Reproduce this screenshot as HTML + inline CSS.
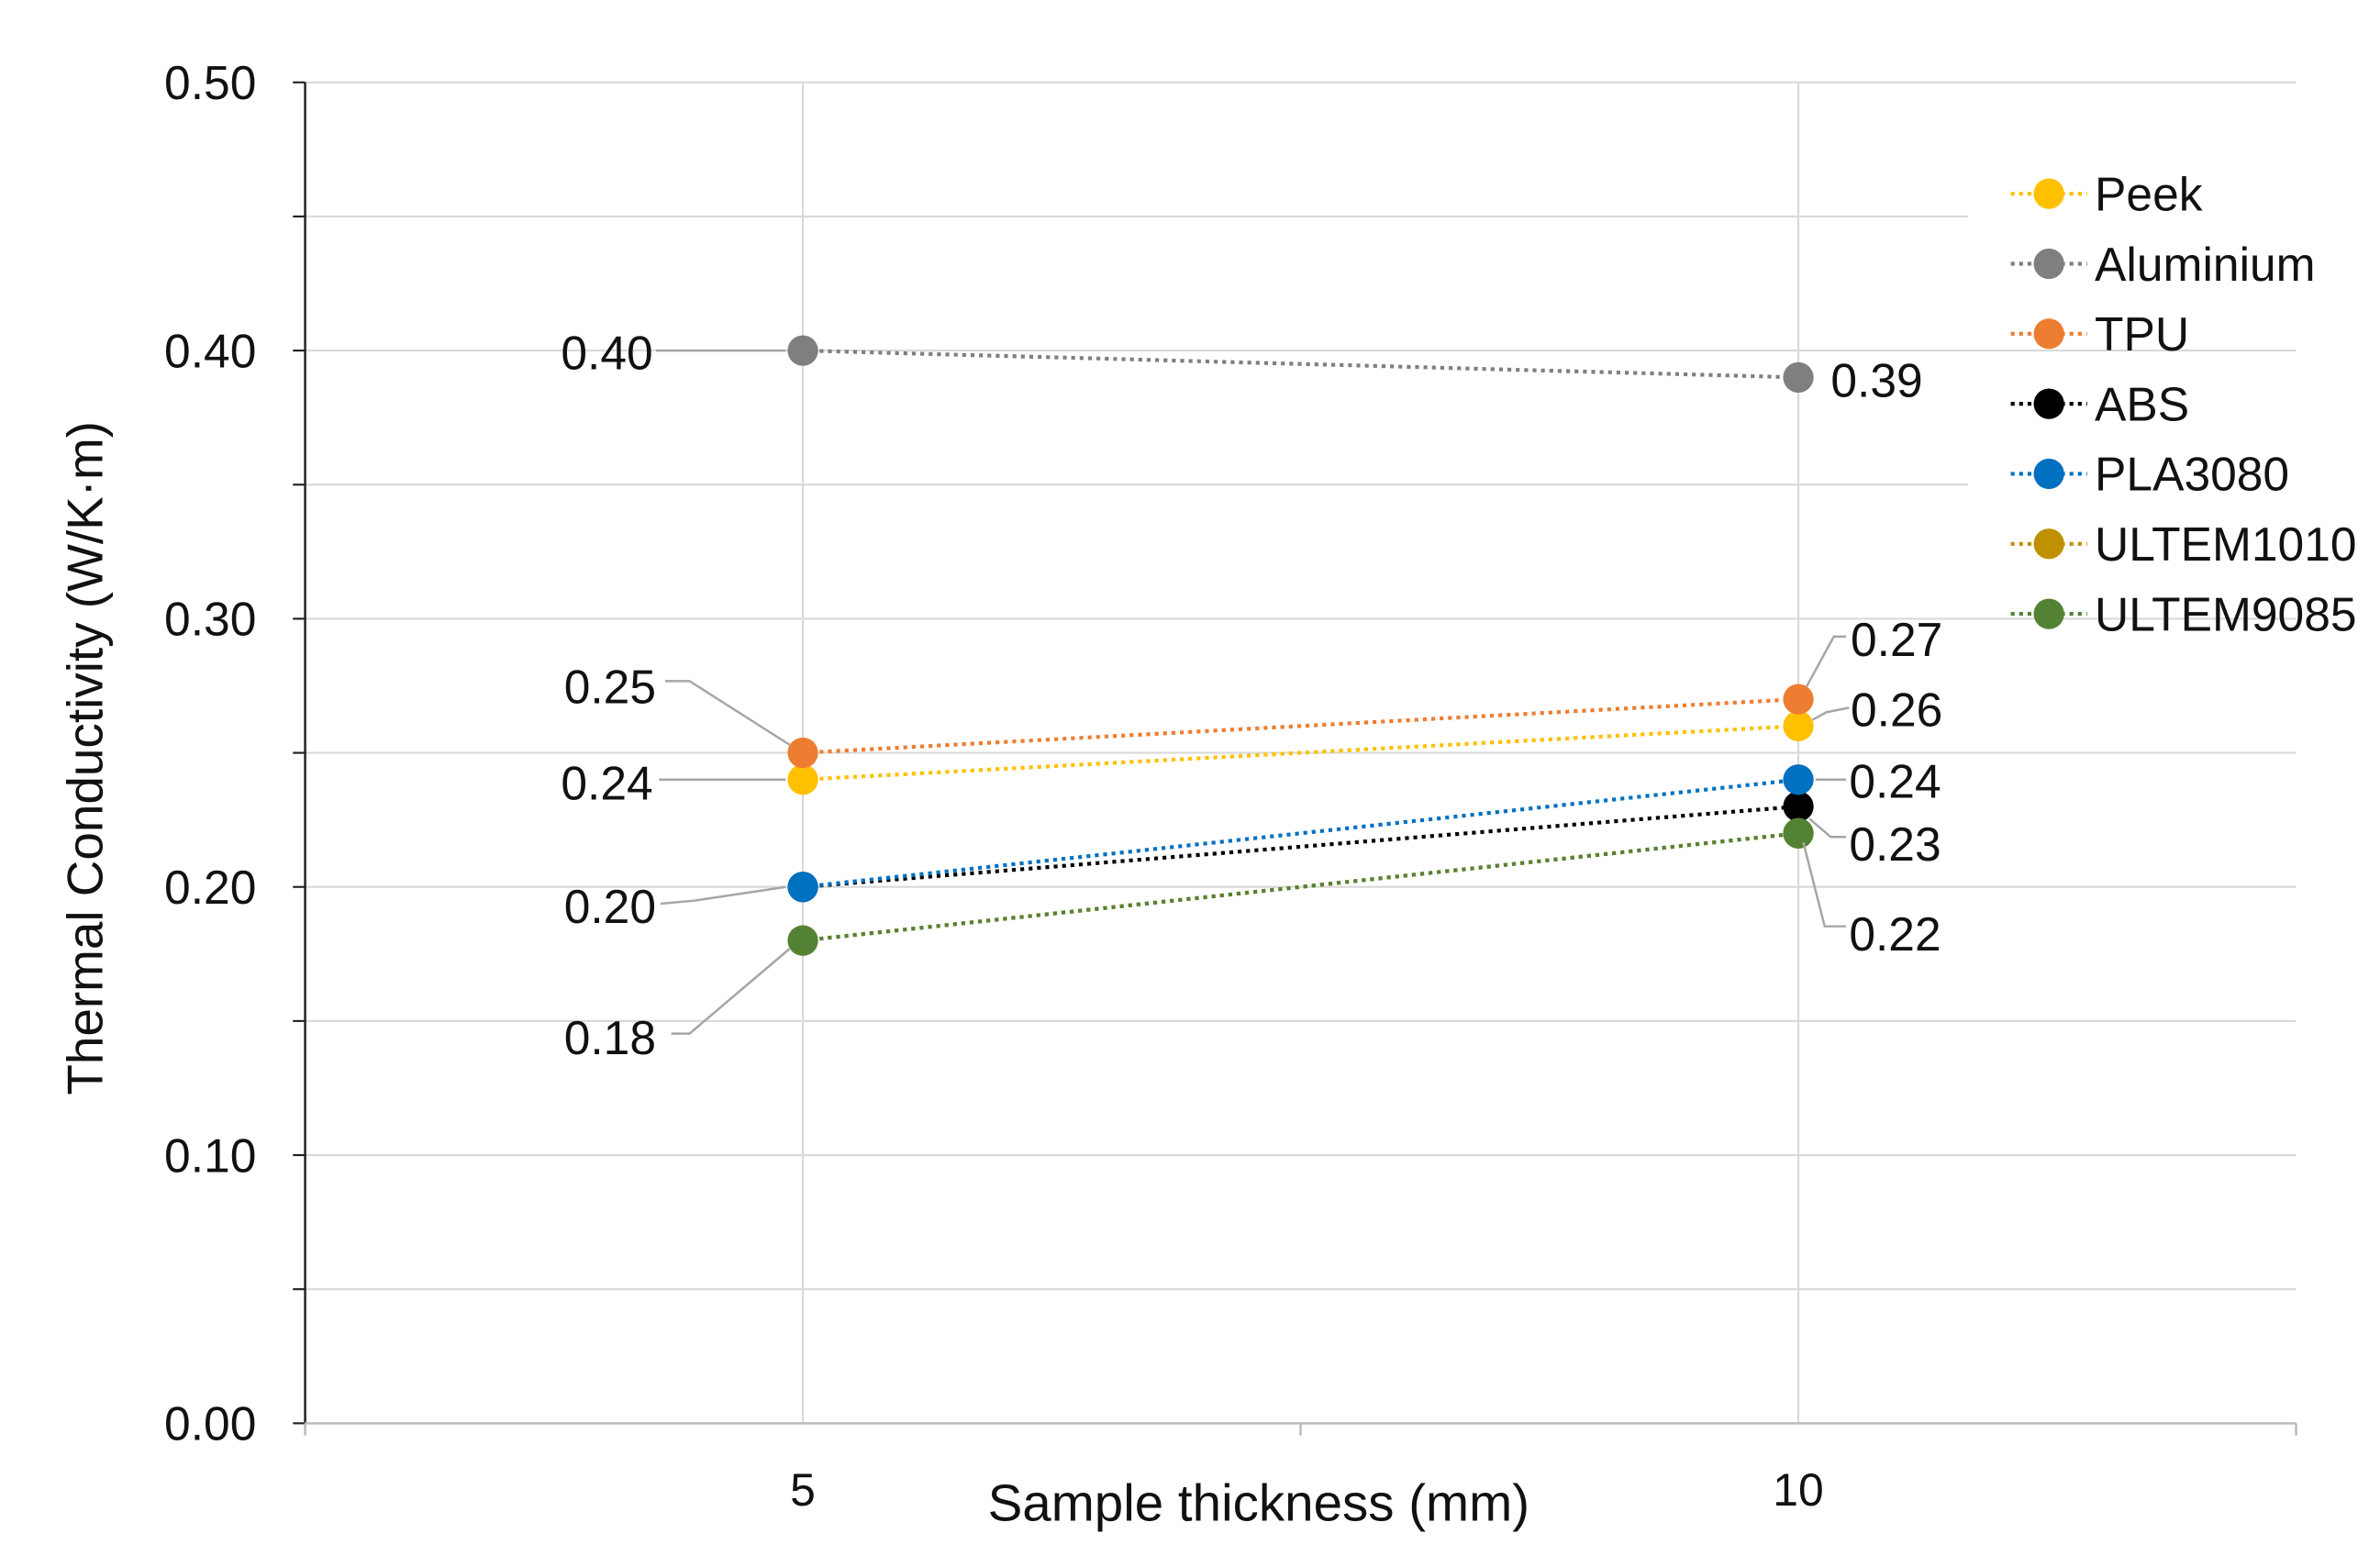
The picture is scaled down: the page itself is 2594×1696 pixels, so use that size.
<!DOCTYPE html>
<html><head><meta charset="utf-8"><style>
html,body{margin:0;padding:0;background:#fff;}
svg{display:block;}
text{font-family:"Liberation Sans",sans-serif;fill:#111;}
</style></head><body>
<svg id="chart" width="2594" height="1696" viewBox="0 0 1560 1020" preserveAspectRatio="none" xmlns="http://www.w3.org/2000/svg">
<g id="grid"></g>
<g id="axes"></g>
<g id="series"></g>
<g id="labels"></g>
<g id="legend"></g>
<text transform="translate(67,497) rotate(-90)" text-anchor="middle" font-size="33">Thermal Conductivity (W/K·m)</text>
<text x="825" y="997" text-anchor="middle" font-size="34">Sample thickness (mm)</text>
</svg>
<script>
const categories = ["5", "10"];
const seriesNames = ["Peek", "Aluminium", "TPU", "ABS", "PLA3080", "ULTEM1010", "ULTEM9085"];
const peekValues = [0.24, 0.26];
const aluminiumValues = [0.40, 0.39];
const tpuValues = [0.25, 0.27];
const absValues = [0.20, 0.23];
const pla3080Values = [0.20, 0.24];
const ultem1010Values = [0.18, 0.22];
const ultem9085Values = [0.18, 0.22];
const yTickLabels = ["0.00", "0.10", "0.20", "0.30", "0.40", "0.50"];
const yTickValues = [0, 0.1, 0.2, 0.3, 0.4, 0.5];

const colors = ["#FFC000", "#7F7F7F", "#ED7D31", "#000000", "#0070C0", "#BF9000", "#548235"];
const allValues = [peekValues, aluminiumValues, tpuValues, absValues, pla3080Values, ultem1010Values, ultem9085Values];
const NS = "http://www.w3.org/2000/svg";
const X0 = 200, X1 = 1505, Y0 = 933, Y1 = 54, YMAX = 0.5;
function yScale(v){ return Y0 - (v / YMAX) * (Y0 - Y1); }
function xScale(i){ const step = (X1 - X0) / categories.length; return X0 + step * (i + 0.5); }
function mk(parent, tag, attrs){ const e = document.createElementNS(NS, tag); for (const k in attrs) e.setAttribute(k, attrs[k]); parent.appendChild(e); return e; }
const grid = document.getElementById("grid"), axes = document.getElementById("axes"), series = document.getElementById("series"), labels = document.getElementById("labels"), legend = document.getElementById("legend");

for (let k = 0; k <= 10; k++) {
  const v = k * 0.05, y = yScale(v);
  const right = (k === 7 || k === 9) ? 1290 : X1;
  if (k > 0) {
    const g = mk(grid, "line", {x1: X0, x2: right, y1: y, y2: y, stroke: "#d9d9d9", "stroke-width": 1.3});
    
    
  }
  const t = mk(axes, "line", {x1: 192, x2: X0, y1: y, y2: y, stroke: "#222", "stroke-width": 1.3});
  
  
}
categories.forEach((c, i) => {
  const x = xScale(i);
  const g = mk(grid, "line", {x1: x, x2: x, y1: Y1, y2: Y0, stroke: "#d9d9d9", "stroke-width": 1.3});
  
  
  const t = mk(axes, "text", {x: x, y: 987, "text-anchor": "middle", "font-size": 30});
  t.textContent = c;
  
  
});
yTickValues.forEach((v, i) => {
  const t = mk(axes, "text", {x: 168, y: yScale(v) + 11, "text-anchor": "end", "font-size": 31});
  t.textContent = yTickLabels[i];
  
  
});
const ya = mk(axes, "line", {x1: X0, x2: X0, y1: Y1, y2: Y0, stroke: "#222", "stroke-width": 1.5});


const xa = mk(axes, "line", {x1: X0, x2: X1, y1: Y0, y2: Y0, stroke: "#bbb", "stroke-width": 1.5});


[X0, (X0 + X1) / 2, X1].forEach(x => {
  const t = mk(axes, "line", {x1: x, x2: x, y1: Y0, y2: Y0 + 8, stroke: "#bbb", "stroke-width": 1.5});
  
  
});

allValues.forEach((vals, s) => {
  const pts = vals.map((v, i) => xScale(i) + "," + yScale(v)).join(" ");
  const l = mk(series, "polyline", {points: pts, fill: "none", stroke: colors[s], "stroke-width": 2.5, "stroke-dasharray": "2.5 3"});
  
  
  vals.forEach((v, i) => {
    const c = mk(series, "circle", {cx: xScale(i), cy: yScale(v), r: 10, fill: colors[s]});
    
    
  });
});

const labelSpecs = [
  [1, 0, 428, 231, [[430, 0], [515, 0]]],
  [2, 0, 430, 450, [[436, -47], [452, -47], [518, -5]]],
  [0, 0, 428, 513, [[432, 0], [515, 0]]],
  [4, 0, 430, 594, [[433, 11], [455, 9], [515, 0]]],
  [6, 0, 430, 680, [[440, 61], [452, 61], [518, 5]]],
  [1, 1, 1200, 249, null],
  [2, 1, 1213, 419, [[1210, -41], [1202, -41], [1184, -8]]],
  [0, 1, 1213, 465, [[1212, -12], [1197, -9], [1188, -4]]],
  [4, 1, 1212, 512, [[1190, 0], [1210, 0]]],
  [3, 1, 1212, 553, [[1186, 8], [1200, 20], [1210, 20]]],
  [6, 1, 1212, 612, [[1182, 6], [1196, 61], [1210, 61]]]
];
labelSpecs.forEach(sp => {
  const [s, i, tx, ty, lead] = sp;
  const v = allValues[s][i];
  const py = yScale(v);
  if (lead) {
    const pts = lead.map(p => p[0] + "," + (py + p[1])).join(" ");
    const l = mk(labels, "polyline", {points: pts, fill: "none", stroke: "#a6a6a6", "stroke-width": 1.5});
    
    
  }
  const anchor = i === 0 ? "end" : "start";
  const t = mk(labels, "text", {x: tx, y: ty + 11, "text-anchor": anchor, "font-size": 31});
  t.textContent = v.toFixed(2);
  
  
});

seriesNames.forEach((n, s) => {
  const y = 127 + s * 45.9;
  const g = mk(legend, "g", {});
  
  
  mk(g, "line", {x1: 1318, x2: 1368, y1: y, y2: y, stroke: colors[s], "stroke-width": 2.5, "stroke-dasharray": "2.5 3"});
  mk(g, "circle", {cx: 1343, cy: y, r: 10, fill: colors[s]});
  const t = mk(g, "text", {x: 1373, y: y + 11, "font-size": 31});
  t.textContent = n;
});
</script>
</body></html>
